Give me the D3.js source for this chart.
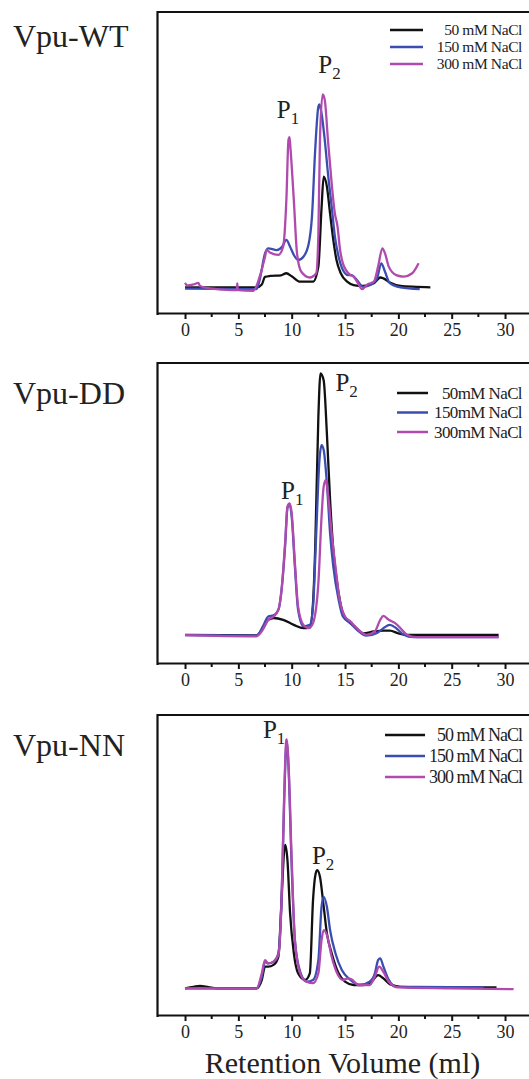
<!DOCTYPE html>
<html>
<head>
<meta charset="utf-8">
<script src="https://cdn.jsdelivr.net/npm/d3@7"></script>
<style>
  body { margin: 0; background: #fff; }
  text { font-family: "Liberation Serif", "Times New Roman", serif; fill: #222; }
</style>
</head>
<body>
<svg id="chart" width="529" height="1079"></svg>
<script>
// chromatograms: [retention volume (ml), absorbance (% of panel height)]
const wt50 = [[0,8.5],[3,8.5],[6.7,8.5],[7.2,9.5],[7.5,12],[8,12.3],[9,12.5],[9.5,13.2],[10,12.2],[10.8,10.4],[12,10.4],[12.5,15.4],[12.8,35],[13.0,45.3],[13.3,42],[13.6,33],[13.9,24.3],[14.2,17.6],[14.6,13.2],[15.2,10.4],[15.8,9.3],[16.7,9],[17.7,9.9],[18.3,11.8],[18.6,11.5],[19.2,10.1],[20.2,9],[21.7,8.7],[23,8.5]];
const wt150 = [[0,8.1],[6.7,7.9],[7.0,11],[7.5,19.8],[7.8,21.5],[8.6,20.9],[9.1,22],[9.5,24.3],[9.85,22],[10.2,19.3],[10.6,17.6],[11.1,18.7],[11.6,23.1],[11.9,32],[12.2,54],[12.5,68.5],[12.6,69.3],[12.8,66.3],[13.1,57.5],[13.4,46.4],[13.75,35.3],[14.05,25.4],[14.4,18.7],[14.8,14.3],[15.3,12.6],[15.6,12.6],[16.1,11],[16.7,8.7],[17.3,9.2],[18,11.5],[18.4,16.5],[18.75,13.7],[19.2,9.9],[20.2,8.5],[22,7.9]];
const wt300 = [[0,10],[0.2,9.2],[0.8,9.5],[1.25,10],[1.4,9],[2.3,8.2],[4.5,7.6],[4.85,7.6],[4.9,9.8],[4.95,7.6],[6.4,7.4],[7.0,12.1],[7.5,18.7],[7.65,20.9],[8,20],[8.75,19.3],[9.2,22],[9.5,37.5],[9.7,57.5],[9.8,58.4],[9.9,54],[10.2,37.5],[10.5,19.8],[10.9,13.7],[11.7,11.8],[12.3,13.2],[12.5,26],[12.65,57.5],[12.9,72.6],[13.1,70.8],[13.4,57.5],[13.75,43],[14.05,33],[14.3,28.7],[14.5,22],[14.8,16.5],[15.5,12.6],[15.8,12.1],[16.2,10],[16.6,7.9],[17.1,9.5],[17.7,10.4],[18.1,15.4],[18.5,21.5],[18.75,19.8],[19.1,15.4],[19.8,12.6],[20.5,12.1],[21.3,13.2],[21.9,16.5]];

const dd50 = [[0,9.4],[6.7,9.2],[7.3,11.6],[7.8,14.4],[8.3,15],[9.2,14.4],[10.2,12.7],[11.1,11.6],[11.7,11.8],[12.0,20],[12.2,37.7],[12.5,82],[12.7,96.5],[13,94.2],[13.3,76.5],[13.6,54.3],[13.9,37.7],[14.4,23.3],[14.8,16.6],[15.3,13.9],[15.9,12.2],[16.7,9.9],[17.7,10.5],[18.6,10.8],[19.2,10.8],[20,9.9],[20.8,9.4],[29.4,9.4]];
const dd150 = [[0,9.3],[6.7,9.1],[7.3,12.2],[7.8,15.5],[8.3,15.9],[8.75,17.7],[9.05,24.4],[9.4,39.9],[9.6,51.6],[9.8,53],[10,48.8],[10.3,32.2],[10.6,17.7],[11.1,12.2],[11.7,12.7],[12,18.8],[12.3,43.2],[12.6,67.6],[12.8,72.6],[13,71],[13.3,59.9],[13.6,43.2],[13.9,32.2],[14.4,21.1],[14.8,15.5],[15.5,13.3],[16.1,11.1],[17,9.1],[18,10],[18.6,11.6],[19.2,12.7],[19.8,11.6],[20.5,9.4],[21.4,8.6],[29.4,8.6]];
const dd300 = [[0,9.3],[6.7,8.9],[7.3,11.1],[7.8,14.4],[8.3,15.5],[8.75,17.7],[9.05,24.4],[9.4,41],[9.6,52.1],[9.8,53.2],[10,49.9],[10.3,33.3],[10.6,18.8],[11.1,12.7],[11.6,11.6],[12,13.3],[12.5,26.6],[12.8,48.8],[13,58.8],[13.2,61],[13.4,56.5],[13.75,43.2],[14.1,32.2],[14.5,21.1],[15,15.5],[15.5,13.9],[16.1,11.6],[17,9.4],[17.8,10.5],[18.3,14.4],[18.6,15.7],[19.1,14.4],[19.7,13.3],[20.2,11.6],[20.8,9.4],[21.7,8.6],[29.4,8.6]];

const nn50 = [[0,8.9],[0.8,9.4],[1.4,9.7],[2.2,9.3],[3,8.9],[6.7,8.9],[7.2,11.7],[7.5,16.1],[7.8,16.1],[8.3,16.7],[8.75,19.4],[9.05,38.3],[9.3,55],[9.4,56.7],[9.6,51.7],[9.85,33.9],[10.2,20.6],[10.6,13.9],[11.25,11.7],[11.7,13.9],[12,38.3],[12.25,47.2],[12.4,48.3],[12.65,46.1],[13,36.1],[13.3,27.2],[13.75,20.6],[14.4,13.9],[15,11.1],[15.8,10],[16.7,10],[17.5,11.1],[18.1,13.3],[18.6,12.2],[19.2,10.3],[20.2,9.4],[23.3,9.2],[29.2,9.2]];
const nn150 = [[0,8.9],[6.7,8.9],[7.2,12.8],[7.5,17.8],[7.8,17.2],[8.3,17.8],[8.75,20.6],[9.05,38.3],[9.3,71.7],[9.5,90.6],[9.55,91.1],[9.7,82.8],[10,49.4],[10.3,25],[10.8,14.4],[11.4,11.1],[12,11.7],[12.5,18.3],[12.8,36.1],[13,39.4],[13.3,36.1],[13.6,28.3],[14.1,20.6],[14.7,15],[15.5,11.7],[16.4,10],[17.3,11.1],[17.8,13.9],[18.1,18.3],[18.3,18.9],[18.6,16.1],[19.1,11.7],[19.8,9.4],[21.7,9.4],[28,9.2]];
const nn300 = [[0,8.9],[6.7,8.8],[7.2,13.9],[7.5,18.3],[7.8,17.2],[8.3,17.8],[8.75,20],[9.05,38.3],[9.3,73.9],[9.5,91.7],[9.55,91.9],[9.7,83.9],[10,51.7],[10.3,25],[10.8,13.9],[11.4,11.1],[12,10.6],[12.5,13.9],[12.8,25],[13,28.3],[13.3,26.7],[13.75,19.4],[14.2,14.4],[14.8,11.7],[15.3,12.2],[15.6,11.9],[16.25,10],[17.3,10],[17.8,12.8],[18.2,16.1],[18.6,14.4],[19.1,11.1],[20,9.2],[24.8,8.9],[30.8,8.6]];

const panelNames = ['Vpu-WT', 'Vpu-DD', 'Vpu-NN'];
const legendLabels = [
    ['50 mM NaCl', '150 mM NaCl', '300 mM NaCl'],
    ['50mM NaCl', '150mM NaCl', '300mM NaCl'],
    ['50 mM NaCl', '150 mM NaCl', '300 mM NaCl']
];
const seriesColors = ['#111111', '#3b4db0', '#b04aae'];
const majorTicks = [0, 5, 10, 15, 20, 25, 30];
const minorTicks = [2.5, 7.5, 12.5, 17.5, 22.5, 27.5];
// [x, y] peak label spots (ml, % height)
const peakLabels = [
    [[8.6, 64.8], [12.5, 79.7]],
    [[9.0, 54.7], [14.1, 90.7]],
    [[7.3, 92.3], [11.9, 50.3]]
];

const panelData = [[wt50, wt150, wt300], [dd50, dd150, dd300], [nn50, nn150, nn300]];

const svg = d3.select('#chart');
const left = 157.5;
const panels = [
    {top: 12, bottom: 313, nameY: 47, legY: 30, legGap: 17, legFont: 15.5, legSp: -0.4, legX1: 390, legX2: 423},
    {top: 363, bottom: 663, nameY: 404, legY: 393, legGap: 19.5, legFont: 17, legSp: -0.6, legX1: 397, legX2: 428},
    {top: 715, bottom: 1015, nameY: 756, legY: 735, legGap: 21, legFont: 18, legSp: -1, legX1: 385, legX2: 425}
];

const x = d3.scaleLinear().domain([-2.58, 33]).range([left, left + 35.58 * 10.667]);

panels.forEach(function (p, i) {
    const y = d3.scaleLinear().domain([0, 100]).range([p.bottom, p.top]);
    const g = svg.append('g');

    // frame (right side falls outside the picture)
    g.append('path')
        .attr('d', 'M' + x(33) + ',' + p.top + 'H' + left + 'V' + (p.bottom + 2))
        .attr('fill', 'none')
        .attr('stroke', '#111')
        .attr('stroke-width', 2.2);

    const axis = d3.axisBottom(x).tickValues(majorTicks).tickSize(6).tickPadding(4).tickSizeOuter(0);
    const ax = g.append('g')
        .attr('transform', 'translate(0,' + p.bottom + ')')
        .call(axis)
        .attr('font-family', null);
    ax.select('.domain').attr('stroke', '#111').attr('stroke-width', 2.2);
    ax.selectAll('.tick line').attr('stroke', '#111').attr('stroke-width', 2);
    ax.selectAll('.tick text')
        .style('font-family', '"Liberation Serif", serif')
        .style('font-size', '18px')
        .attr('fill', '#222');

    ax.selectAll('.minor')
        .data(minorTicks)
        .enter()
        .append('line')
        .attr('x1', d => x(d))
        .attr('x2', d => x(d))
        .attr('y1', 0)
        .attr('y2', 4)
        .attr('stroke', '#111')
        .attr('stroke-width', 2);

    const line = d3.line()
        .x(d => x(d[0]))
        .y(d => y(d[1]))
        .curve(d3.curveMonotoneX);

    g.selectAll('.trace')
        .data(panelData[i])
        .enter()
        .append('path')
        .attr('d', line)
        .attr('fill', 'none')
        .attr('stroke', (d, k) => seriesColors[k])
        .attr('stroke-width', 2.3)
        .attr('stroke-linejoin', 'round');

    // panel name
    g.append('text')
        .attr('x', 13)
        .attr('y', p.nameY)
        .style('font-size', '32px')
        .text(panelNames[i]);

    // legend
    const leg = g.selectAll('.leg')
        .data(legendLabels[i])
        .enter()
        .append('g')
        .attr('transform', (d, k) => 'translate(0,' + (p.legY + k * p.legGap) + ')');
    leg.append('line')
        .attr('x1', p.legX1)
        .attr('x2', p.legX2)
        .attr('stroke', (d, k) => seriesColors[k])
        .attr('stroke-width', 2.5);
    leg.append('text')
        .attr('x', 522)
        .attr('dy', '0.35em')
        .attr('text-anchor', 'end')
        .style('font-size', p.legFont + 'px')
        .style('letter-spacing', p.legSp + 'px')
        .text(d => d);

    // P1 / P2 labels
    peakLabels[i].forEach(function (pk, k) {
        const t = g.append('text')
            .attr('x', x(pk[0]))
            .attr('y', y(pk[1]))
            .style('font-size', '25px');
        t.append('tspan').text('P');
        t.append('tspan')
            .attr('dy', 6)
            .style('font-size', '17px')
            .text(String(k + 1));
    });
});

svg.append('text')
    .attr('x', 342.5)
    .attr('y', 1073)
    .attr('text-anchor', 'middle')
    .style('font-size', '30px')
    .text('Retention Volume (ml)');
</script>
</body>
</html>
